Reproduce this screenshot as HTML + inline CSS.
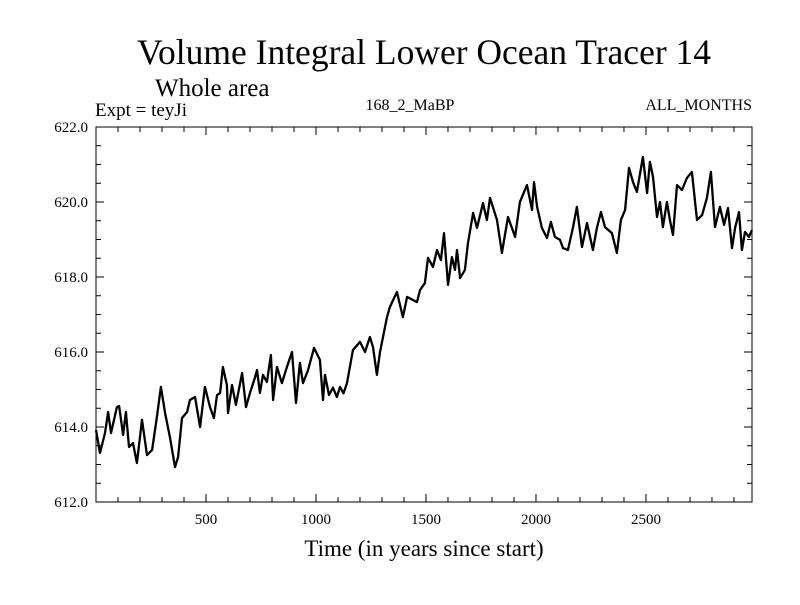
<!DOCTYPE html>
<html><head><meta charset="utf-8"><style>
body{margin:0;background:#fff}
svg text{font-family:"Liberation Serif",serif;fill:#000}
</style></head><body>
<svg id="chart" width="800" height="600">
<text x="424" y="64" font-size="35.5" text-anchor="middle">Volume Integral Lower Ocean Tracer 14</text>
<text x="155" y="96" font-size="25">Whole area</text>
<text x="95" y="116" font-size="19">Expt = teyJi</text>
<text x="410" y="110" font-size="16" text-anchor="middle">168_2_MaBP</text>
<text x="752" y="110" font-size="16" text-anchor="end">ALL_MONTHS</text>
<text x="424" y="556" font-size="23" text-anchor="middle">Time (in years since start)</text>
<g id="axes"></g>
<path id="series" fill="none" stroke="#000" stroke-width="2.3" stroke-linejoin="round"></path>
<rect x="96" y="127" width="656" height="375" fill="none" stroke="#000" stroke-width="1"></rect>
</svg>
<script>
const years=[0,18,41,55,68,95,105,123,136,150,168,186,209,232,255,277,295,314,336,359,373,391,414,427,450,473,495,518,536,550,564,577,595,600,618,636,664,682,700,723,732,745,759,777,795,805,823,845,868,891,909,927,941,964,991,1018,1032,1041,1059,1077,1095,1109,1125,1141,1168,1200,1223,1245,1259,1277,1291,1323,1336,1368,1395,1414,1459,1473,1495,1509,1532,1550,1568,1582,1600,1618,1632,1641,1655,1677,1691,1714,1732,1759,1777,1791,1823,1845,1873,1905,1927,1959,1982,1991,2005,2027,2050,2068,2086,2109,2123,2145,2168,2186,2209,2232,2259,2277,2295,2314,2345,2368,2386,2405,2423,2441,2459,2486,2505,2518,2532,2550,2564,2577,2595,2609,2623,2641,2664,2686,2709,2732,2755,2777,2795,2814,2836,2855,2873,2891,2905,2923,2936,2950,2968,2982];
const values=[613.92,613.31,613.84,614.40,613.84,614.53,614.56,613.79,614.40,613.47,613.57,613.04,614.19,613.25,613.39,614.27,615.07,614.37,613.73,612.93,613.20,614.24,614.40,614.72,614.80,614.00,615.07,614.53,614.24,614.85,614.91,615.60,615.12,614.37,615.12,614.59,615.44,614.53,614.91,615.33,615.52,614.91,615.39,615.20,615.92,614.72,615.60,615.17,615.60,616.00,614.64,615.71,615.17,615.52,616.11,615.79,614.72,615.39,614.85,615.05,614.80,615.07,614.90,615.17,616.05,616.27,616.00,616.40,616.13,615.39,616.00,616.93,617.20,617.60,616.93,617.47,617.33,617.65,617.84,618.51,618.27,618.72,618.45,619.17,617.79,618.53,618.19,618.72,617.97,618.19,618.91,619.71,619.31,619.97,619.52,620.11,619.52,618.64,619.60,619.07,620.00,620.45,619.79,620.53,619.87,619.31,619.04,619.47,619.07,618.99,618.77,618.72,619.31,619.87,618.80,619.44,618.72,619.31,619.73,619.33,619.17,618.64,619.52,619.79,620.91,620.53,620.27,621.20,620.24,621.07,620.67,619.60,620.00,619.33,620.00,619.52,619.12,620.45,620.32,620.64,620.80,619.52,619.65,620.11,620.80,619.33,619.87,619.39,619.84,618.77,619.31,619.73,618.72,619.20,619.07,619.25];
const yTicks=[612,614,616,618,620,622];
const xTicks=[500,1000,1500,2000,2500];
const X0=96,X1=752,Y0=502,Y1=127,XMIN=0,XMAX=2982,YMIN=612,YMAX=622;
function sx(v){return X0+(v-XMIN)/(XMAX-XMIN)*(X1-X0);}
function sy(v){return Y0-(v-YMIN)/(YMAX-YMIN)*(Y0-Y1);}
const NS='http://www.w3.org/2000/svg';
const g=document.getElementById('axes');
function line(x1,y1,x2,y2,name){const l=document.createElementNS(NS,'line');
l.setAttribute('x1',x1);l.setAttribute('y1',y1);l.setAttribute('x2',x2);l.setAttribute('y2',y2);l.setAttribute('stroke','#000');


g.appendChild(l);}
function txt(x,y,s,anchor,name){const t=document.createElementNS(NS,'text');
t.setAttribute('x',x);t.setAttribute('y',y);t.setAttribute('font-size','15');t.setAttribute('text-anchor',anchor);t.textContent=s;


g.appendChild(t);}
for(let v=YMIN;v<=YMAX+1e-9;v+=0.5){const y=sy(v);const major=Math.abs(v/2-Math.round(v/2))<1e-9;const len=major?8:5;
line(X0,y,X0+len,y,'y-tick');line(X1,y,X1-len,y,'y-tick-right');}
yTicks.forEach(v=>txt(88,sy(v)+5,v.toFixed(1),'end','y-tick-label'));
for(let v=100;v<XMAX;v+=100){const x=sx(v);const len=(v%500===0)?8:5;
line(x,Y0,x,Y0-len,'x-tick');line(x,Y1,x,Y1+len,'x-tick-top');}
xTicks.forEach(v=>txt(sx(v),524,String(v),'middle','x-tick-label'));
let d='';years.forEach((yr,i)=>{d+=(i?'L':'M')+sx(yr).toFixed(1)+','+sy(values[i]).toFixed(1);});
document.getElementById('series').setAttribute('d',d);
</script>
</body></html>
